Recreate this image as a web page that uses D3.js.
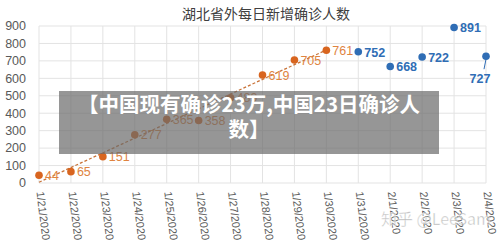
<!DOCTYPE html>
<html>
<head>
<meta charset="utf-8">
<script src="https://cdn.jsdelivr.net/npm/d3@7"></script>
<style>
  body { margin: 0; background: #fff; }
  svg { display: block; }
</style>
</head>
<body>
<div id="chart"></div>
<script>
// data
var dates = ["1/21/2020", "1/22/2020", "1/23/2020", "1/24/2020", "1/25/2020", "1/26/2020", "1/27/2020",
    "1/28/2020", "1/29/2020", "1/30/2020", "1/31/2020", "2/1/2020", "2/2/2020", "2/3/2020", "2/4/2020"];
var orangeValues = [44, 65, 151, 277, 365, 358, 489, 619, 705, 761];
var blueValues = [752, 668, 722, 891, 727];
var yTicks = [0, 100, 200, 300, 400, 500, 600, 700, 800, 900];
var title = "湖北省外每日新增确诊人数";
var overlayLines = ["【中国现有确诊23万,中国23日确诊人", "数】"];
var watermark = "知乎 @LeeSam";

var W = 500, H = 246;
var margin = {top: 26, right: 14, bottom: 63, left: 39};
var width = W - margin.left - margin.right;
var height = H - margin.top - margin.bottom;

var svgRoot = d3.select("#chart")
    .append("svg")
    .attr("width", W)
    .attr("height", H);

var svg = svgRoot.append("g")
    .attr("transform", "translate(" + margin.left + "," + margin.top + ")");

var x = d3.scalePoint()
    .domain(dates)
    .range([0, width]);

var y = d3.scaleLinear()
    .domain([0, 900])
    .range([height, 0]);

// grid
svg.append("g")
    .selectAll("line.h")
    .data(yTicks)
    .enter()
    .append("line")
    .attr("x1", 0)
    .attr("x2", width)
    .attr("y1", function (d) { return y(d); })
    .attr("y2", function (d) { return y(d); })
    .attr("stroke", "#e3e3e3")
    .attr("stroke-width", 1);

svg.append("g")
    .selectAll("line.v")
    .data(dates)
    .enter()
    .append("line")
    .attr("x1", function (d) { return x(d); })
    .attr("x2", function (d) { return x(d); })
    .attr("y1", 0)
    .attr("y2", height)
    .attr("stroke", "#e3e3e3")
    .attr("stroke-width", 1);

// y axis labels
svg.append("g")
    .selectAll("text")
    .data(yTicks)
    .enter()
    .append("text")
    .attr("x", -13)
    .attr("y", function (d) { return y(d); })
    .attr("dy", "0.35em")
    .attr("text-anchor", "end")
    .style("font-family", "Liberation Sans, Arial, sans-serif")
    .style("font-size", "12.5px")
    .style("fill", "#595959")
    .text(function (d) { return d; });

// x axis labels, slightly tilted
svg.append("g")
    .selectAll("text")
    .data(dates)
    .enter()
    .append("text")
    .attr("transform", function (d) {
        return "translate(" + (x(d) - 2.5) + "," + (height + 9) + ") rotate(83)";
    })
    .attr("text-anchor", "start")
    .style("font-family", "Liberation Sans, Arial, sans-serif")
    .style("font-size", "11px")
    .style("fill", "#595959")
    .text(function (d) { return d; });

// linear trend of the orange series
var n = orangeValues.length;
var mx = d3.mean(d3.range(n)), my = d3.mean(orangeValues);
var sxy = d3.sum(orangeValues, function (v, i) { return (i - mx) * (v - my); });
var sxx = d3.sum(d3.range(n), function (i) { return (i - mx) * (i - mx); });
var slope = sxy / sxx, icpt = my - slope * mx;

svg.append("line")
    .attr("x1", x(dates[0]))
    .attr("y1", y(icpt))
    .attr("x2", x(dates[n - 1]))
    .attr("y2", y(icpt + slope * (n - 1)))
    .attr("stroke", "#c9743a")
    .attr("stroke-width", 1.3)
    .attr("stroke-dasharray", "3,2");

// orange points
var orange = orangeValues.map(function (v, i) { return {date: dates[i], value: v}; });
var blue = blueValues.map(function (v, i) { return {date: dates[n + i], value: v}; });

svg.append("g")
    .selectAll("circle")
    .data(orange)
    .enter()
    .append("circle")
    .attr("cx", function (d) { return x(d.date); })
    .attr("cy", function (d) { return y(d.value); })
    .attr("r", 3.8)
    .style("fill", "#d8651f");

svg.append("g")
    .selectAll("text")
    .data(orange)
    .enter()
    .append("text")
    .attr("x", function (d) { return x(d.date) + 6; })
    .attr("y", function (d) { return y(d.value); })
    .attr("dy", "0.38em")
    .style("font-family", "Liberation Sans, Arial, sans-serif")
    .style("font-size", "12.5px")
    .style("fill", "#e0843f")
    .text(function (d) { return d.value; });

// blue points
svg.append("g")
    .selectAll("circle")
    .data(blue)
    .enter()
    .append("circle")
    .attr("cx", function (d) { return x(d.date); })
    .attr("cy", function (d) { return y(d.value); })
    .attr("r", 3.8)
    .style("fill", "#2f6db5");

var last = blue.length - 1;
svg.append("g")
    .selectAll("text")
    .data(blue)
    .enter()
    .append("text")
    .attr("x", function (d, i) { return i == last ? x(d.date) - 6 : x(d.date) + 6; })
    .attr("y", function (d, i) { return i == last ? y(d.value) + 22 : y(d.value); })
    .attr("dy", "0.38em")
    .attr("text-anchor", function (d, i) { return i == last ? "middle" : "start"; })
    .style("font-family", "Liberation Sans, Arial, sans-serif")
    .style("font-size", "12.5px")
    .style("font-weight", "bold")
    .style("fill", "#2f6db5")
    .text(function (d) { return d.value; });

// leader line for the last blue label
svg.append("line")
    .attr("x1", x(blue[last].date))
    .attr("y1", y(blue[last].value) + 3)
    .attr("x2", x(blue[last].date) - 2)
    .attr("y2", y(blue[last].value) + 13)
    .attr("stroke", "#2f6db5")
    .attr("stroke-width", 1);

// title
svgRoot.append("text")
    .attr("x", 266)
    .attr("y", 19)
    .attr("text-anchor", "middle")
    .style("font-family", "Noto Sans CJK SC, sans-serif")
    .style("font-size", "14px")
    .style("fill", "#404040")
    .text(title);

// overlay band
svgRoot.append("rect")
    .attr("x", 59)
    .attr("y", 91)
    .attr("width", 380)
    .attr("height", 63)
    .style("fill", "rgba(105,105,105,0.7)");

svgRoot.append("g")
    .selectAll("text")
    .data(overlayLines)
    .enter()
    .append("text")
    .attr("x", 249)
    .attr("y", function (d, i) { return 112 + i * 25; })
    .attr("text-anchor", "middle")
    .style("font-family", "Noto Sans CJK SC, sans-serif")
    .style("font-size", "20.5px")
    .style("font-weight", "bold")
    .style("fill", "#ffffff")
    .text(function (d) { return d; });

// watermark
svgRoot.append("text")
    .attr("x", 381)
    .attr("y", 225)
    .style("font-family", "Noto Sans CJK SC, sans-serif")
    .style("font-size", "16px")
    .style("fill", "rgba(140,140,140,0.6)")
    .style("stroke", "rgba(255,255,255,0.7)")
    .style("stroke-width", 0.7)
    .text(watermark);
</script>
</body>
</html>
